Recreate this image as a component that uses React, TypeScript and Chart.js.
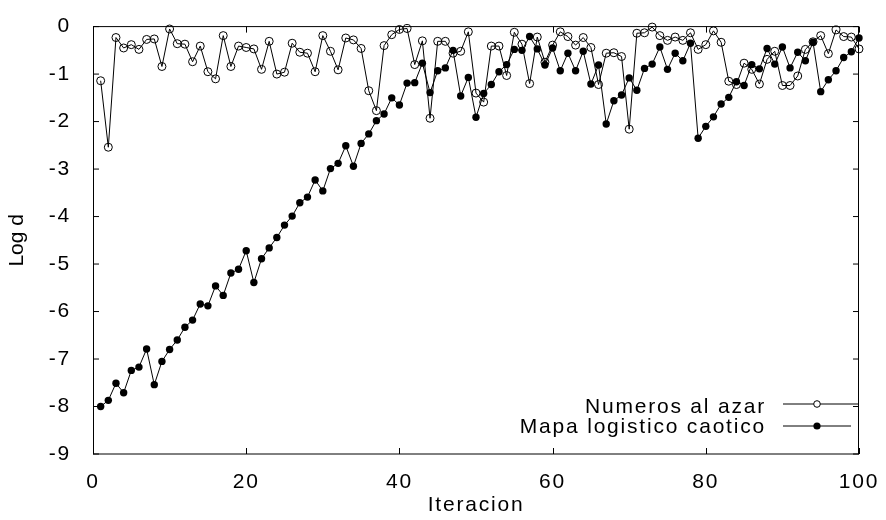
import React, { useEffect, useRef } from "react";
import { Chart, registerables } from "chart.js";

Chart.register(...registerables);

// ---------- data ----------
const iterations = [
  1, 2, 3, 4, 5, 6, 7, 8, 9, 10, 11, 12, 13, 14, 15, 16, 17, 18, 19, 20,
  21, 22, 23, 24, 25, 26, 27, 28, 29, 30, 31, 32, 33, 34, 35, 36, 37, 38, 39, 40,
  41, 42, 43, 44, 45, 46, 47, 48, 49, 50, 51, 52, 53, 54, 55, 56, 57, 58, 59, 60,
  61, 62, 63, 64, 65, 66, 67, 68, 69, 70, 71, 72, 73, 74, 75, 76, 77, 78, 79, 80,
  81, 82, 83, 84, 85, 86, 87, 88, 89, 90, 91, 92, 93, 94, 95, 96, 97, 98, 99, 100,
];

const numerosAlAzar = [
  -1.14, -2.54, -0.23, -0.45, -0.38, -0.48, -0.27, -0.26, -0.84, -0.05,
  -0.36, -0.37, -0.74, -0.41, -0.95, -1.10, -0.19, -0.84, -0.41, -0.44,
  -0.47, -0.90, -0.31, -1.00, -0.96, -0.35, -0.54, -0.56, -0.95, -0.19,
  -0.52, -0.91, -0.24, -0.28, -0.46, -1.35, -1.77, -0.40, -0.17, -0.06,
  -0.04, -0.80, -0.30, -1.93, -0.31, -0.31, -0.56, -0.52, -0.11, -1.40,
  -1.59, -0.41, -0.41, -1.03, -0.12, -0.37, -1.20, -0.22, -0.75, -0.39,
  -0.11, -0.21, -0.39, -0.23, -0.44, -1.22, -0.56, -0.55, -0.63, -2.16,
  -0.14, -0.13, -0.01, -0.19, -0.29, -0.22, -0.29, -0.13, -0.48, -0.38,
  -0.09, -0.33, -1.15, -1.22, -0.77, -0.90, -1.21, -0.69, -0.52, -1.24,
  -1.24, -1.04, -0.48, -0.32, -0.19, -0.57, -0.07, -0.21, -0.22, -0.47,
];

const mapaLogistico = [
  -8.00, -7.87, -7.51, -7.71, -7.24, -7.17, -6.79, -7.54, -7.05, -6.80,
  -6.60, -6.33, -6.18, -5.84, -5.88, -5.46, -5.66, -5.19, -5.11, -4.72,
  -5.39, -4.89, -4.66, -4.44, -4.18, -3.99, -3.71, -3.59, -3.23, -3.46,
  -2.99, -2.88, -2.51, -2.94, -2.46, -2.26, -1.98, -1.84, -1.50, -1.65,
  -1.19, -1.18, -0.77, -1.39, -0.93, -0.87, -0.50, -1.46, -1.07, -1.91,
  -1.41, -1.22, -0.95, -0.80, -0.48, -0.50, -0.21, -0.47, -0.81, -0.45,
  -0.93, -0.56, -0.93, -0.52, -1.21, -0.81, -2.05, -1.56, -1.44, -1.08,
  -1.34, -0.88, -0.79, -0.43, -0.90, -0.56, -0.72, -0.35, -2.35, -2.10,
  -1.90, -1.63, -1.49, -1.16, -1.24, -0.80, -0.89, -0.46, -0.79, -0.43,
  -0.87, -0.54, -0.72, -0.33, -1.37, -1.12, -0.93, -0.65, -0.53, -0.24,
];

const xTicks = [0, 20, 40, 60, 80, 100];
const yTicks = [-9, -8, -7, -6, -5, -4, -3, -2, -1, 0];
const seriesLabels = ["Numeros al azar", "Mapa logistico caotico"];
const xTitle = "Iteracion";
const yTitle = "Log d";

// ---------- style ----------
const FONT = '"Liberation Sans", Arial, Helvetica, sans-serif';
const FONT_SIZE = 21;
const SPACING = "1.8px";

const gnuplotPlugin = {
  id: "gnuplotDecor",
  beforeDraw(chart: any) {
    chart.ctx.letterSpacing = SPACING;
  },
  afterDraw(chart: any) {
    const { ctx, chartArea: a, scales } = chart;
    const xs = scales.x;
    const ys = scales.y;
    ctx.save();
    ctx.letterSpacing = "0px";
    ctx.strokeStyle = "#000";
    ctx.lineWidth = 1;

    // inward mirrored ticks
    ctx.beginPath();
    xs.ticks.forEach((t: any) => {
      const px = Math.round(xs.getPixelForValue(t.value)) + 0.5;
      ctx.moveTo(px, a.bottom);
      ctx.lineTo(px, a.bottom - 6);
      ctx.moveTo(px, a.top);
      ctx.lineTo(px, a.top + 6);
    });
    ys.ticks.forEach((t: any) => {
      const py = ys.getPixelForValue(t.value);
      ctx.moveTo(a.left, py);
      ctx.lineTo(a.left + 6, py);
      ctx.moveTo(a.right, py);
      ctx.lineTo(a.right - 6, py);
    });
    ctx.stroke();

    // frame
    ctx.beginPath();
    ctx.moveTo(a.left + 0.5, a.top);
    ctx.lineTo(a.left + 0.5, a.bottom);
    ctx.moveTo(a.right - 0.5, a.top);
    ctx.lineTo(a.right - 0.5, a.bottom);
    ctx.moveTo(a.left, a.top);
    ctx.lineTo(a.right, a.top);
    ctx.moveTo(a.left, a.bottom);
    ctx.lineTo(a.right, a.bottom);
    ctx.stroke();

    // y axis title (rotated)
    ctx.save();
    ctx.translate(17.7, (a.top + a.bottom) / 2);
    ctx.rotate(-Math.PI / 2);
    ctx.font = `${FONT_SIZE}px ${FONT}`;
    ctx.fillStyle = "#000";
    ctx.textAlign = "center";
    ctx.textBaseline = "middle";
    ctx.fillText(yTitle, 0, 0);
    ctx.restore();

    // legend (gnuplot style: text right, sample line + marker)
    const rows = [
      { y: 404, base: 412.5, lineEnd: 858.5 },
      { y: 426, base: 433, lineEnd: 851 },
    ];
    chart.data.datasets.forEach((ds: any, i: number) => {
      const r = rows[i];
      ctx.save();
      ctx.letterSpacing = SPACING;
      ctx.font = `${FONT_SIZE}px ${FONT}`;
      ctx.fillStyle = "#000";
      ctx.textAlign = "right";
      ctx.textBaseline = "alphabetic";
      ctx.fillText(ds.label, 766, r.base);
      ctx.restore();
      ctx.beginPath();
      ctx.moveTo(783, r.y);
      ctx.lineTo(r.lineEnd, r.y);
      ctx.strokeStyle = "#000";
      ctx.lineWidth = 1;
      ctx.stroke();
      ctx.beginPath();
      ctx.arc(817, r.y, i === 0 ? 3.3 : 3.6, 0, Math.PI * 2);
      if (i === 0) {
        ctx.fillStyle = "#fff";
        ctx.fill();
        ctx.stroke();
      } else {
        ctx.fillStyle = "#000";
        ctx.fill();
      }
    });
    ctx.restore();
  },
};

export default function App() {
  const canvasRef = useRef<HTMLCanvasElement | null>(null);

  useEffect(() => {
    const canvas = canvasRef.current;
    if (!canvas) return;
    const chart = new Chart(canvas, {
      type: "line",
      data: {
        datasets: [
          {
            label: seriesLabels[0],
            data: iterations.map((x, i) => ({ x, y: numerosAlAzar[i] })),
            borderColor: "#000",
            borderWidth: 1,
            pointRadius: 4,
            pointBorderWidth: 1,
            pointBorderColor: "#000",
            pointBackgroundColor: "rgba(255,255,255,0)",
            tension: 0,
            clip: false as any,
            order: 1,
          },
          {
            label: seriesLabels[1],
            data: iterations.map((x, i) => ({ x, y: mapaLogistico[i] })),
            borderColor: "#000",
            borderWidth: 1,
            pointRadius: 3.7,
            pointBorderWidth: 0,
            pointBorderColor: "#000",
            pointBackgroundColor: "#000",
            tension: 0,
            clip: false as any,
            order: 0,
          },
        ],
      },
      options: {
        responsive: false,
        animation: false,
        devicePixelRatio: 1,
        events: [],
        layout: { padding: { left: 0, right: 27, top: 13, bottom: 0 } },
        plugins: {
          legend: { display: false },
          tooltip: { enabled: false },
          title: { display: false },
        },
        scales: {
          x: {
            type: "linear",
            min: 0,
            max: 100,
            grid: { display: false },
            border: { display: false },
            afterBuildTicks: (s: any) => {
              s.ticks = xTicks.map((v) => ({ value: v }));
            },
            afterFit: (s: any) => {
              s.height = 66;
            },
            ticks: {
              padding: 8,
              color: "#000",
              maxRotation: 0,
              autoSkip: false,
              font: { family: FONT, size: FONT_SIZE },
              callback: (v: any) => String(v),
            },
            title: {
              display: true,
              text: xTitle,
              color: "#000",
              font: { family: FONT, size: FONT_SIZE },
              padding: { top: 0, bottom: 2 },
            },
          },
          y: {
            type: "linear",
            min: -9,
            max: 0,
            grid: { display: false },
            border: { display: false },
            afterBuildTicks: (s: any) => {
              s.ticks = yTicks.map((v) => ({ value: v }));
            },
            afterFit: (s: any) => {
              s.width = 93;
            },
            ticks: {
              padding: 14,
              color: "#000",
              autoSkip: false,
              font: { family: FONT, size: FONT_SIZE },
              callback: (v: any) => String(v),
            },
          },
        },
      },
      plugins: [gnuplotPlugin],
    });
    return () => chart.destroy();
  }, []);

  return (
    <div style={{ position: "absolute", left: 0, top: 0, width: 886, height: 520, background: "#fff" }}>
      <canvas ref={canvasRef} width={886} height={520} style={{ display: "block" }} />
    </div>
  );
}
